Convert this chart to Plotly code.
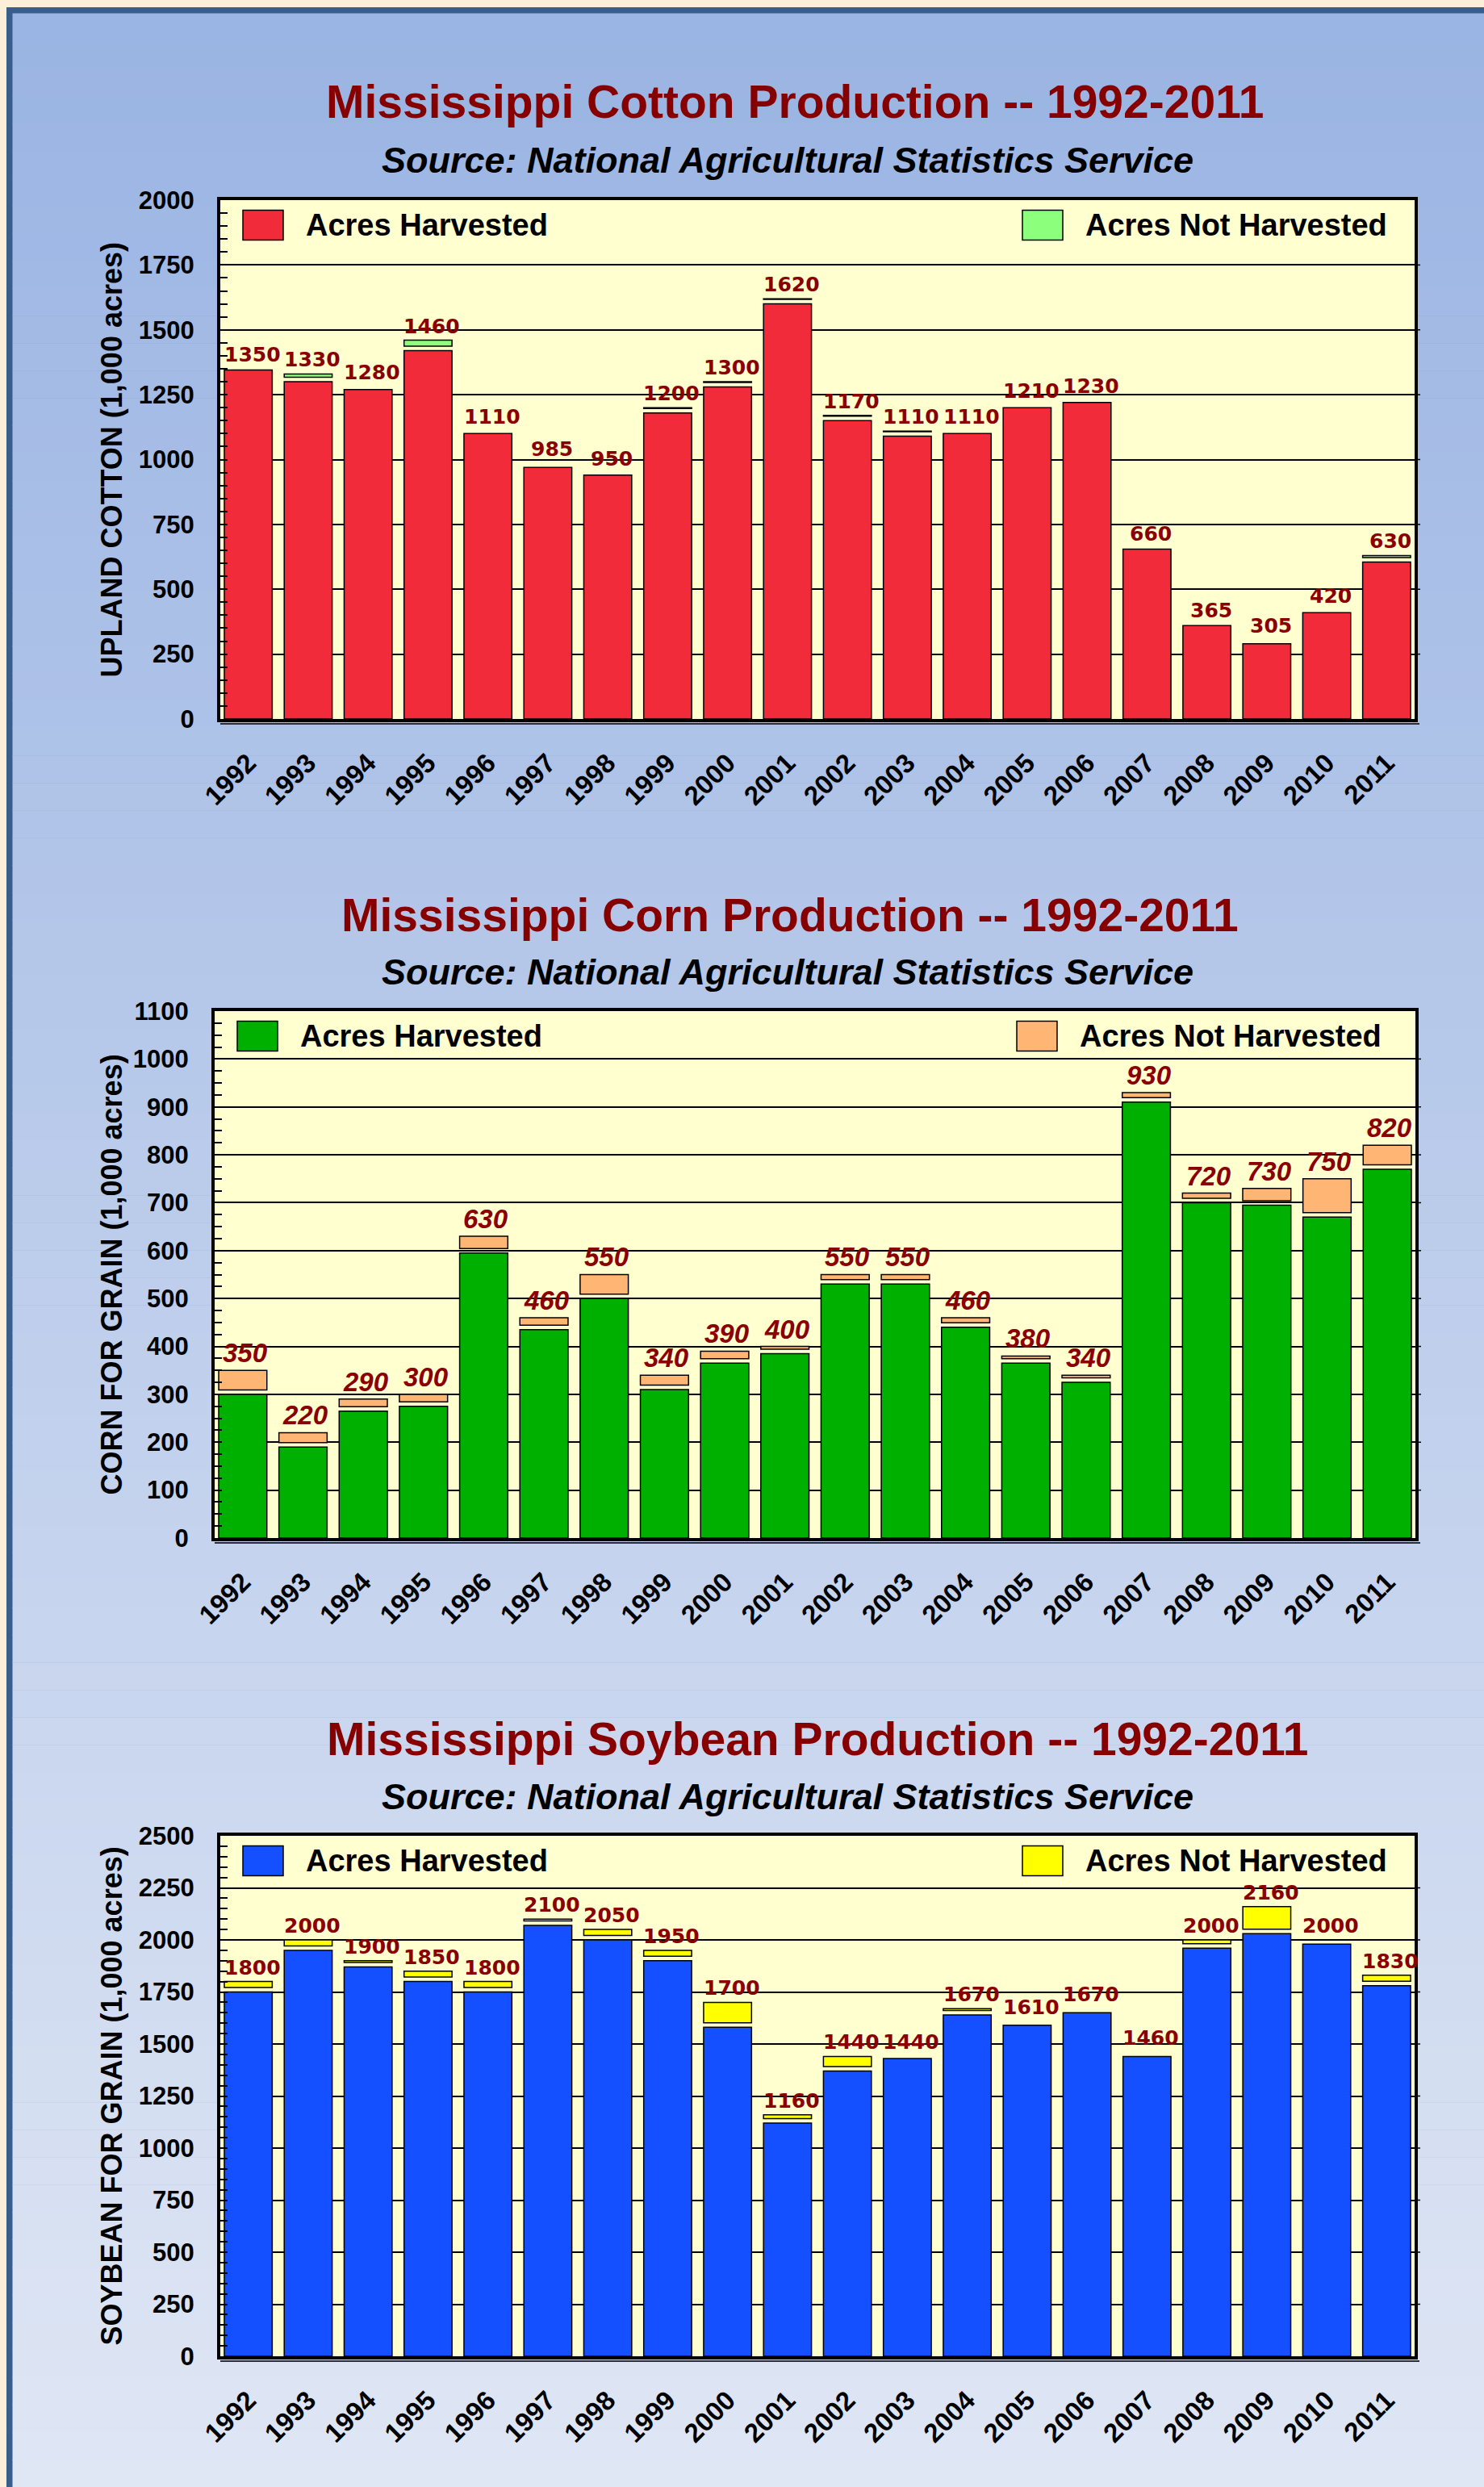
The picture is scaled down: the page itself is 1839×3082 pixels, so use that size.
import plotly.graph_objects as go

W, H = 1839, 3082

# ---------------- data ----------------
years = [str(y) for y in range(1992, 2012)]

cotton_planted = [1350, 1330, 1280, 1460, 1110, 985, 950, 1200, 1300, 1620,
                  1170, 1110, 1110, 1210, 1230, 660, 365, 305, 420, 630]
cotton_harvested = [1345, 1300, 1270, 1420, 1100, 970, 940, 1180, 1280, 1600,
                    1150, 1090, 1100, 1200, 1220, 655, 360, 290, 410, 605]

corn_planted = [350, 220, 290, 300, 630, 460, 550, 340, 390, 400,
                550, 550, 460, 380, 340, 930, 720, 730, 750, 820]
corn_harvested = [300, 190, 265, 275, 595, 435, 500, 310, 365, 385,
                  530, 530, 440, 365, 325, 910, 700, 695, 670, 770]

soy_planted = [1800, 2000, 1900, 1850, 1800, 2100, 2050, 1950, 1700, 1160,
               1440, 1440, 1670, 1610, 1670, 1460, 2000, 2160, 2000, 1830]
soy_harvested = [1750, 1950, 1870, 1800, 1750, 2070, 2000, 1900, 1580, 1120,
                 1370, 1430, 1640, 1590, 1650, 1440, 1960, 2030, 1980, 1780]

FONT = "Liberation Sans, Arial, sans-serif"
TITLE_RED = "#870000"
LABEL_RED = "#8a0000"

panels = [
    dict(title="Mississippi Cotton Production -- 1992-2011",
         ytitle="UPLAND COTTON (1,000 acres)",
         planted=cotton_planted, harvested=cotton_harvested,
         ymax=2000, dtick=250, minor=50,
         c_h="#f22b3b", c_n="#8cff7c",
         box=(273, 248, 1753, 891), title_xy=(985, 126), sub_xy=(976, 198),
         lab_font=dict(family="DejaVu Sans, sans-serif", size=25, color=LABEL_RED, weight="bold"),
         lab_xshift=5),
    dict(title="Mississippi Corn Production -- 1992-2011",
         ytitle="CORN FOR GRAIN (1,000 acres)",
         planted=corn_planted, harvested=corn_harvested,
         ymax=1100, dtick=100, minor=25,
         c_h="#00b000", c_n="#ffb574",
         box=(266, 1253, 1754, 1906), title_xy=(979, 1134), sub_xy=(976, 1204),
         lab_font=dict(family=FONT, size=33, color=LABEL_RED, weight="bold", style="italic"),
         lab_xshift=3),
    dict(title="Mississippi Soybean Production -- 1992-2011",
         ytitle="SOYBEAN FOR GRAIN (1,000 acres)",
         planted=soy_planted, harvested=soy_harvested,
         ymax=2500, dtick=250, minor=50,
         c_h="#1450ff", c_n="#ffff00",
         box=(273, 2275, 1753, 2920), title_xy=(1013, 2155), sub_xy=(976, 2226),
         lab_font=dict(family="DejaVu Sans, sans-serif", size=25, color=LABEL_RED, weight="bold"),
         lab_xshift=5),
]

GAP_PX = 5.5


def px(xp):
    return xp / W


def py(yp):
    return 1 - yp / H


fig = go.Figure()
shapes = []
annotations = []

# ---------- background: beige page, dark-blue frame, vertical gradient ----------
shapes.append(dict(type="rect", xref="paper", yref="paper", layer="below",
                   x0=px(8), x1=1, y0=py(9), y1=0,
                   fillcolor="#3a5e8c", line=dict(width=0)))
top_c = (154, 180, 227)
bot_c = (223, 230, 244)
NB = 90
y_start = 16.5
for k in range(NB):
    t = k / (NB - 1)
    c = tuple(round(top_c[j] + (bot_c[j] - top_c[j]) * t) for j in range(3))
    y0 = y_start + (H - y_start) * k / NB
    y1 = min(H, y_start + (H - y_start) * (k + 1) / NB + 0.5)
    shapes.append(dict(type="rect", xref="paper", yref="paper", layer="below",
                       x0=px(15.5), x1=1, y0=py(y0), y1=py(y1),
                       fillcolor="rgb(%d,%d,%d)" % c, line=dict(width=0)))

layout_axes = {}
for i, p in enumerate(panels):
    n = "" if i == 0 else str(i + 1)
    xa, ya = "x" + n, "y" + n
    L, T, R, B = p["box"]
    gap_units = GAP_PX * p["ymax"] / (B - T)

    # plot area background (light yellow)
    shapes.append(dict(type="rect", xref=xa + " domain", yref=ya + " domain", layer="below",
                       x0=0, x1=1, y0=0, y1=1, fillcolor="#ffffd0", line=dict(width=0)))

    cap_h, cap_base = [], []
    for pl, hv in zip(p["planted"], p["harvested"]):
        h = pl - hv - gap_units
        if h > 0:
            cap_h.append(h)
            cap_base.append(hv + gap_units)
        else:
            cap_h.append(None)
            cap_base.append(None)

    fig.add_trace(go.Bar(x=years, y=p["harvested"], xaxis=xa, yaxis=ya,
                         marker=dict(color=p["c_h"], line=dict(color="black", width=1.5)),
                         name="Acres Harvested", showlegend=False, hoverinfo="x+y"))
    fig.add_trace(go.Bar(x=years, y=cap_h, base=cap_base, xaxis=xa, yaxis=ya,
                         marker=dict(color=p["c_n"], line=dict(color="black", width=1.5)),
                         name="Acres Not Harvested", showlegend=False, hoverinfo="x"))

    # value labels (category index positions on the category axis)
    for k, pl in enumerate(p["planted"]):
        annotations.append(dict(x=k, y=pl, xref=xa, yref=ya, text=str(pl), showarrow=False,
                                xanchor="center", yanchor="bottom", yshift=1,
                                xshift=p["lab_xshift"], font=p["lab_font"]))

    # short outside ticks on the right frame at each major value
    for v in range(p["dtick"], p["ymax"], p["dtick"]):
        shapes.append(dict(type="line", xref=xa + " domain", yref=ya,
                           x0=1, x1=1 + 7 / (R - L), y0=v, y1=v,
                           line=dict(color="black", width=1.5)))

    tickfont = dict(family=FONT, size=31, color="black", weight="bold")
    xtickfont = dict(family=FONT, size=33, color="black", weight="bold")
    layout_axes["xaxis" + n] = dict(
        domain=[px(L), px(R)], anchor=ya, type="category",
        range=[-0.467, len(years) - 1 + 0.467],
        showgrid=False, zeroline=False, showline=True, linecolor="black", linewidth=4,
        mirror=True, ticks="", tickangle=-45, tickfont=xtickfont,
        ticklabelstandoff=18, fixedrange=True, automargin=False)
    layout_axes["yaxis" + n] = dict(
        domain=[py(B), py(T)], anchor=xa, range=[0, p["ymax"]],
        tickmode="linear", tick0=0, dtick=p["dtick"],
        showgrid=True, gridcolor="black", gridwidth=1.5, zeroline=False,
        showline=True, linecolor="black", linewidth=4, mirror=True,
        ticks="inside", ticklen=9, tickwidth=2, tickcolor="black",
        minor=dict(dtick=p["minor"], ticks="inside", ticklen=9, tickwidth=2,
                   tickcolor="black", showgrid=False),
        tickfont=tickfont, ticklabelstandoff=22, fixedrange=True, automargin=False)

    # floor line below the plot
    shapes.append(dict(type="line", xref="paper", yref="paper",
                       x0=px(L), x1=px(R + 6), y0=py(B + 6), y1=py(B + 6),
                       line=dict(color="#2b2b3a", width=2)))

    # titles
    annotations.append(dict(xref="paper", yref="paper", x=px(p["title_xy"][0]), y=py(p["title_xy"][1]),
                            text=p["title"], showarrow=False, xanchor="center", yanchor="middle",
                            font=dict(family=FONT, size=57, color=TITLE_RED, weight="bold")))
    annotations.append(dict(xref="paper", yref="paper", x=px(p["sub_xy"][0]), y=py(p["sub_xy"][1]),
                            text="Source: National Agricultural Statistics Service", showarrow=False,
                            xanchor="center", yanchor="middle",
                            font=dict(family=FONT, size=45, color="black", weight="bold", style="italic")))
    # y-axis title
    annotations.append(dict(xref="paper", yref="paper", x=px(138), y=py((T + B) / 2),
                            text=p["ytitle"], textangle=-90, showarrow=False,
                            xanchor="center", yanchor="middle",
                            font=dict(family=FONT, size=36, color="black", weight="bold")))

    # manual legend
    sw_top = T + 12.5
    sw_bot = T + 49.5
    for sx, col, txt in [(L + 28, p["c_h"], "Acres Harvested"),
                         (L + 994, p["c_n"], "Acres Not Harvested")]:
        shapes.append(dict(type="rect", xref="paper", yref="paper",
                           x0=px(sx), x1=px(sx + 50), y0=py(sw_bot), y1=py(sw_top),
                           fillcolor=col, line=dict(color="black", width=1.5)))
        annotations.append(dict(xref="paper", yref="paper", x=px(sx + 76), y=py((sw_top + sw_bot) / 2),
                                text=txt, showarrow=False, xanchor="left", yanchor="middle",
                                font=dict(family=FONT, size=38, color="black", weight="bold")))

fig.update_layout(
    width=W, height=H, margin=dict(l=0, r=0, t=0, b=0, pad=0, autoexpand=False),
    paper_bgcolor="#fbefd9", plot_bgcolor="#ffffd0",
    barmode="overlay", bargap=0.2, showlegend=False,
    shapes=shapes, annotations=annotations, **layout_axes)

fig.write_html("out.html", post_script="document.body.style.margin='0';",
               config={"displayModeBar": False})
